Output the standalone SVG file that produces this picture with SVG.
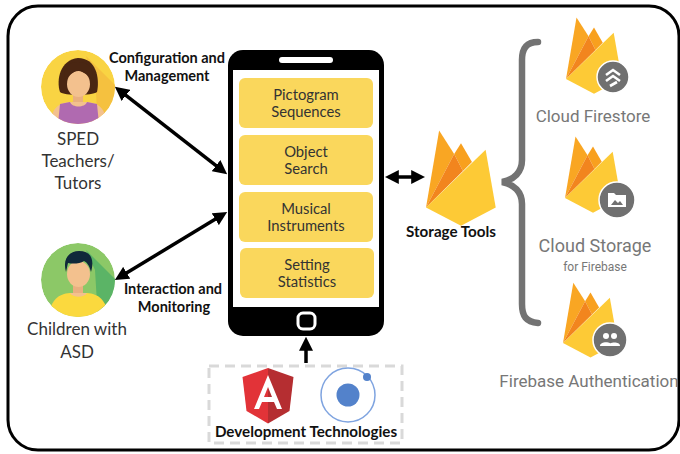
<svg xmlns="http://www.w3.org/2000/svg" width="680" height="454" viewBox="0 0 680 454">
  <defs>
    <style>
      .lbl { font-family: Lato, "Liberation Sans", sans-serif; font-weight: 700; font-size: 14.5px; fill: #111; text-anchor: middle; }
      .big { font-size: 15.2px; }
      .who { font-family: Lato, "Open Sans", sans-serif; font-size: 17px; fill: #333; text-anchor: middle; }
      .feat { font-family: Lato, "Open Sans", sans-serif; font-size: 14.8px; fill: #333; text-anchor: middle; }
      .fb { font-family: Roboto, "Liberation Sans", sans-serif; fill: #777; text-anchor: middle; }
      .box { fill: #FAD75C; }
      .conn { stroke: #000; stroke-width: 3.5; fill: none; }
      .badge { fill: #707070; stroke: #fff; stroke-width: 1.5; }
    </style>
    <marker id="ah" viewBox="0 0 10 10" refX="2" refY="5" markerWidth="4" markerHeight="4" orient="auto-start-reverse">
      <path d="M0,0 L10,5 L0,10 z" fill="#000"/>
    </marker>
    <!-- flat flame logo -->
    <symbol id="flame" viewBox="0 0 256 351">
      <polygon points="0,283 48,2 103,88" fill="#F9A623"/>
      <polygon points="103,88 128,48 168,117 135,150" fill="#F8A01E"/>
      <polygon points="0,283 103,88 135,150" fill="#F2851E"/>
      <polygon points="0,283 218,72 255,283 128,350" fill="#FDCA36"/>
    </symbol>
    <clipPath id="clipT"><circle cx="78" cy="87" r="37"/></clipPath>
    <clipPath id="clipC"><circle cx="78" cy="280" r="37"/></clipPath>
  </defs>

  <!-- outer frame -->
  <rect x="8" y="6" width="671" height="444" rx="30" fill="#fff" stroke="#000" stroke-width="3"/>

  <!-- teachers -->
  <g id="teachers">
    <g clip-path="url(#clipT)">
      <circle cx="78" cy="87" r="37" fill="#F9D443"/>
      <polygon points="86,56 128,98 128,130 98,130 96,92" fill="#F5C13F"/>
      <path d="M60,92 C56,80 60,60 78,58 C96,58 100,78 97,92 C92,96 64,96 60,92 Z" fill="#4A2612"/>
      <rect x="73" y="92" width="10" height="12" fill="#E9B080"/>
      <ellipse cx="78.5" cy="84" rx="11.5" ry="13" fill="#F3C18E"/>
      <path d="M64,80 C64,66 70,62 79,62 C88,62 94,68 93,80 C88,74 82,72 78,70 C73,72 68,76 64,80 Z" fill="#4A2612"/>
      <path d="M50,124 C52,108 58,103 70,102 L87,102 C99,103 105,108 107,124 Z" fill="#F3C18E"/>
      <path d="M58,124 L60,104 L70,102 C72,108 85,108 87,102 L97,104 L99,124 Z" fill="#B06AB0"/>
    </g>
    <text class="who" x="78" y="145">SPED</text>
    <text class="who" x="78" y="167">Teachers/</text>
    <text class="who" x="78" y="189">Tutors</text>
  </g>

  <!-- children -->
  <g id="children">
    <g clip-path="url(#clipC)">
      <circle cx="78" cy="280" r="37" fill="#8CC867"/>
      <polygon points="86,250 128,292 128,320 98,320 95,270" fill="#5BB466"/>
      <rect x="73" y="282" width="10" height="12" fill="#E9B080"/>
      <ellipse cx="78.5" cy="274" rx="11.5" ry="13" fill="#F3C18E"/>
      <path d="M66,272 C62,258 70,251 79,251 C90,251 95,258 91,272 C89,264 86,262 84,261 C80,264 72,264 68,263 Z" fill="#10293A"/>
      <path d="M48,320 C50,300 58,294 70,293 L87,293 C99,294 107,300 109,320 Z" fill="#FBD93E"/>
      <path d="M70,293 C73,298 84,298 87,293 Z" fill="#F3C18E"/>
    </g>
    <text class="who" x="77" y="335">Children with</text>
    <text class="who" x="77" y="358">ASD</text>
  </g>

  <!-- mobile app -->
  <g id="phone">
    <rect x="228" y="50" width="156" height="286" rx="15" fill="#000"/>
    <rect x="233" y="70" width="146" height="237" fill="#fff"/>
    <rect x="279" y="57" width="54" height="6" rx="3" fill="#fff"/>
    <rect x="298" y="313" width="17" height="16" rx="5" fill="none" stroke="#fff" stroke-width="3"/>
  </g>
  <g id="pictogram">
    <rect class="box" x="239" y="78" width="134" height="50" rx="6"/>
    <text class="feat" x="306" y="100">Pictogram</text>
    <text class="feat" x="306" y="117">Sequences</text>
  </g>
  <g id="object-search">
    <rect class="box" x="239" y="135" width="134" height="50" rx="6"/>
    <text class="feat" x="306" y="157">Object</text>
    <text class="feat" x="306" y="174">Search</text>
  </g>
  <g id="musical">
    <rect class="box" x="239" y="192" width="134" height="50" rx="6"/>
    <text class="feat" x="306" y="214">Musical</text>
    <text class="feat" x="306" y="231">Instruments</text>
  </g>
  <g id="statistics">
    <rect class="box" x="240" y="248" width="134" height="50" rx="6"/>
    <text class="feat" x="307" y="270">Setting</text>
    <text class="feat" x="307" y="287">Statistics</text>
  </g>

  <!-- connectors -->
  <g id="connectors">
    <line class="conn" x1="123.7" y1="93.7" x2="218.3" y2="167.3" marker-start="url(#ah)" marker-end="url(#ah)"/>
    <line class="conn" x1="217.6" y1="217.7" x2="124.4" y2="274.3" marker-start="url(#ah)" marker-end="url(#ah)"/>
    <line class="conn" x1="396" y1="177" x2="414" y2="177" marker-start="url(#ah)" marker-end="url(#ah)"/>
    <line class="conn" x1="306" y1="363" x2="306" y2="348" marker-end="url(#ah)"/>
  </g>

  <!-- edge labels -->
  <g id="labels">
    <text class="lbl" x="167" y="63">Configuration and</text>
    <text class="lbl" x="167" y="81">Management</text>
    <text class="lbl" x="173" y="294">Interaction and</text>
    <text class="lbl" x="174" y="312">Monitoring</text>
  </g>

  <!-- development technologies -->
  <g id="dev-tech">
    <rect x="209" y="366" width="193" height="77" fill="none" stroke="#D9D9D9" stroke-width="3" stroke-dasharray="10 6"/>
    <g transform="translate(268,396)">
      <polygon points="0,-28 -25.5,-19 -21.5,15 0,27.5" fill="#E23338"/>
      <polygon points="0,-28 25.5,-19 21.5,15 0,27.5" fill="#B52E31"/>
      <path d="M0,-21 L-14,13 L-9,13 L-6,6 L6,6 L9,13 L14,13 Z M-4,1 L4,1 L0,-9 Z" fill="#fff" fill-rule="evenodd"/>
    </g>
    <circle cx="348" cy="395" r="27" fill="none" stroke="#7FA4E0" stroke-width="1.5"/>
    <circle cx="348" cy="395" r="11.5" fill="#5382CB"/>
    <circle cx="367" cy="377" r="4" fill="#5382CB"/>
    <text class="lbl big" x="306" y="437">Development Technologies</text>
  </g>

  <!-- storage tools -->
  <g id="storage-tools">
    <use href="#flame" x="426" y="130" width="70" height="96"/>
    <text class="lbl big" x="451" y="237">Storage Tools</text>
  </g>

  <!-- brace -->
  <path d="M538,42 C526,42 522,49 522,60 L522,160 C522,172 514,180 502,182 C514,184 522,192 522,204 L522,304 C522,316 526,322 538,323" fill="none" stroke="#737373" stroke-width="6.5" stroke-linecap="round"/>

  <g id="firestore">
    <use href="#flame" x="566" y="17" width="56" height="77"/>
    <circle class="badge" cx="613" cy="77" r="16"/>
    <path d="M606,75 L613,70 L620,75 M606,81 L613,76 L620,81 M610,86 L617,82" fill="none" stroke="#fff" stroke-width="2.6"/>
    <text class="fb" x="593" y="122" style="font-size:17px">Cloud Firestore</text>
  </g>

  <g id="cloud-storage">
    <use href="#flame" x="565" y="136" width="56" height="77"/>
    <circle class="badge" cx="617" cy="200" r="18"/>
    <path d="M608,193 L614,193 L616,195 L626,195 L626,207 L608,207 Z" fill="#fff"/>
    <polygon points="611,205 615,200 618,203 620,201 623,205" fill="#707070"/>
    <text class="fb" x="595" y="252" style="font-size:18px">Cloud Storage</text>
    <text class="fb" x="595" y="271" style="font-size:12px">for Firebase</text>
  </g>

  <g id="auth">
    <use href="#flame" x="563" y="282" width="55" height="76"/>
    <circle class="badge" cx="610" cy="340" r="17"/>
    <circle cx="606" cy="336" r="3" fill="#fff"/>
    <circle cx="614" cy="336" r="3" fill="#fff"/>
    <path d="M600,346 C600,341 612,341 612,346 Z M608,346 C608,342 620,341 620,346 Z" fill="#fff"/>
    <text class="fb" x="589" y="387" style="font-size:17px">Firebase Authentication</text>
  </g>
</svg>
